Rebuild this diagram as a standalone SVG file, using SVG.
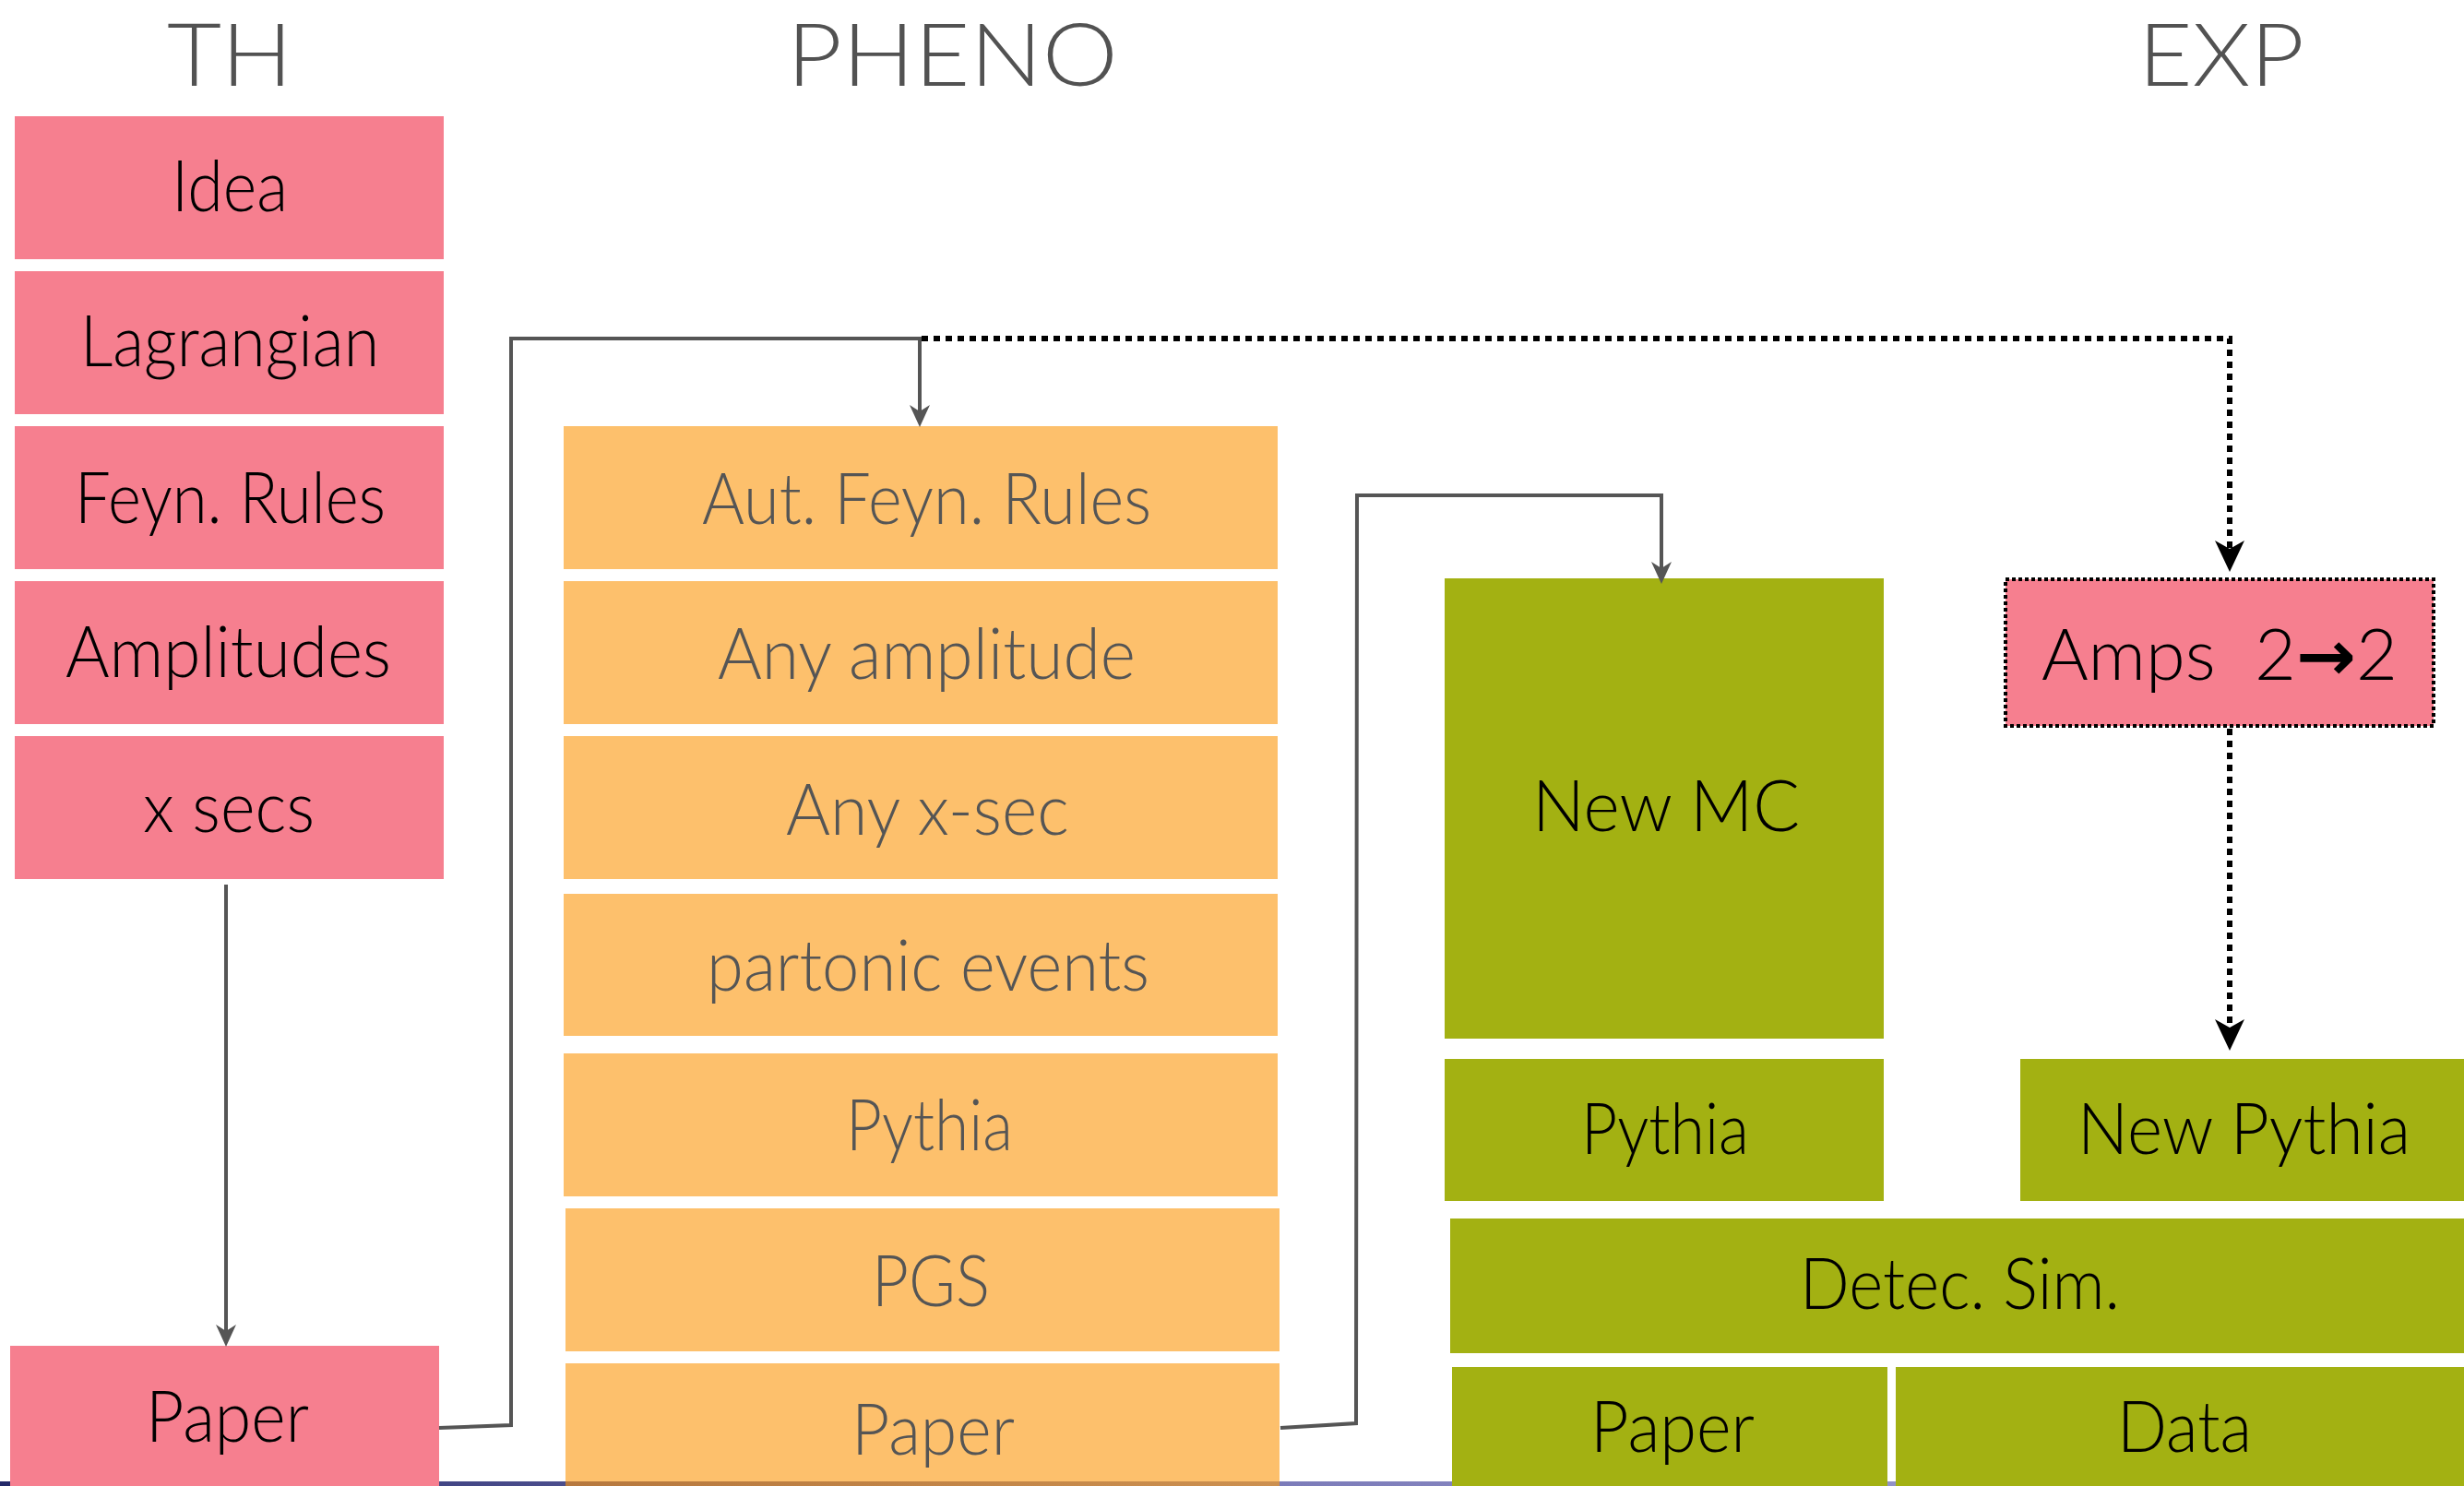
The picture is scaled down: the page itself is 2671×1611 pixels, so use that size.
<svg xmlns="http://www.w3.org/2000/svg" width="2671" height="1611" viewBox="0 0 2671 1611">
<defs>
<style>
.pink{fill:#F67F8F}
.orange{fill:#FDC06C}
.green{fill:#A3B112}
text{font-family:Lato,"Open Sans","Liberation Sans",sans-serif;font-weight:300;font-size:76px}
.hdr{font-size:94px;fill:#525252}
.dk{fill:#000}
.gy{fill:#555}
.conn{fill:none;stroke:#555;stroke-width:4}
.dot{fill:none;stroke:#000;stroke-width:6;stroke-dasharray:7 6}
</style>
<marker id="ag" markerUnits="userSpaceOnUse" markerWidth="24" markerHeight="22" viewBox="0 0 24 22" refX="14" refY="11" orient="auto">
<path d="M0,0 L24,11 L0,22 L7,11 Z" fill="#555"/>
</marker>
<marker id="ab" markerUnits="userSpaceOnUse" markerWidth="34" markerHeight="32" viewBox="0 0 34 32" refX="22" refY="16" orient="auto">
<path d="M0,0 L34,16 L0,32 L9,16 Z" fill="#000"/>
</marker>
<linearGradient id="bar" x1="0" y1="0" x2="2671" y2="0" gradientUnits="userSpaceOnUse">
<stop offset="0" stop-color="#232868"/>
<stop offset="0.5" stop-color="#7a7ab8"/>
<stop offset="1" stop-color="#a6a6d4"/>
</linearGradient>
<linearGradient id="brown" x1="613" y1="0" x2="1387" y2="0" gradientUnits="userSpaceOnUse">
<stop offset="0" stop-color="#b6783e"/>
<stop offset="1" stop-color="#cc9050"/>
</linearGradient>
</defs>
<rect x="0" y="0" width="2671" height="1611" fill="#fff"/>
<rect x="0" y="1606" width="2671" height="5" fill="url(#bar)"/>

<g id="headers">
<text class="hdr" x="181" y="93" textLength="136" lengthAdjust="spacingAndGlyphs">TH</text>
<text class="hdr" x="853" y="93" textLength="359" lengthAdjust="spacingAndGlyphs">PHENO</text>
<text class="hdr" x="2318" y="93" textLength="180" lengthAdjust="spacingAndGlyphs">EXP</text>
</g>

<g id="th-idea"><rect class="pink" x="16" y="126" width="465" height="155"/><text class="dk" x="186" y="229" textLength="126" lengthAdjust="spacingAndGlyphs">Idea</text></g>
<g id="th-lagrangian"><rect class="pink" x="16" y="294" width="465" height="155"/><text class="dk" x="87" y="397" textLength="324" lengthAdjust="spacingAndGlyphs">Lagrangian</text></g>
<g id="th-feyn"><rect class="pink" x="16" y="462" width="465" height="155"/><text class="dk" x="81" y="567" textLength="337" lengthAdjust="spacingAndGlyphs">Feyn. Rules</text></g>
<g id="th-amplitudes"><rect class="pink" x="16" y="630" width="465" height="155"/><text class="dk" x="71" y="734" textLength="353" lengthAdjust="spacingAndGlyphs">Amplitudes</text></g>
<g id="th-xsecs"><rect class="pink" x="16" y="798" width="465" height="155"/><text class="dk" x="155" y="902" textLength="186" lengthAdjust="spacingAndGlyphs">x secs</text></g>
<g id="th-paper"><rect class="pink" x="11" y="1459" width="465" height="152"/><text class="dk" x="158" y="1563" textLength="177" lengthAdjust="spacingAndGlyphs">Paper</text></g>

<g id="ph-autfeyn"><rect class="orange" x="611" y="462" width="774" height="155"/><text class="gy" x="761" y="568" textLength="487" lengthAdjust="spacingAndGlyphs">Aut. Feyn. Rules</text></g>
<g id="ph-anyamp"><rect class="orange" x="611" y="630" width="774" height="155"/><text class="gy" x="778" y="736" textLength="453" lengthAdjust="spacingAndGlyphs">Any amplitude</text></g>
<g id="ph-anyxsec"><rect class="orange" x="611" y="798" width="774" height="155"/><text class="gy" x="852" y="905" textLength="307" lengthAdjust="spacingAndGlyphs">Any x-sec</text></g>
<g id="ph-partonic"><rect class="orange" x="611" y="969" width="774" height="154"/><text class="gy" x="766" y="1074" textLength="480" lengthAdjust="spacingAndGlyphs">partonic events</text></g>
<g id="ph-pythia"><rect class="orange" x="611" y="1142" width="774" height="155"/><text class="gy" x="917" y="1247" textLength="181" lengthAdjust="spacingAndGlyphs">Pythia</text></g>
<g id="ph-pgs"><rect class="orange" x="613" y="1310" width="774" height="155"/><text class="gy" x="945" y="1416" textLength="128" lengthAdjust="spacingAndGlyphs">PGS</text></g>
<g id="ph-paper"><rect class="orange" x="613" y="1478" width="774" height="133"/><rect x="613" y="1606" width="774" height="5" fill="url(#brown)"/><text class="gy" x="923" y="1577" textLength="177" lengthAdjust="spacingAndGlyphs">Paper</text></g>

<g id="ex-newmc"><rect class="green" x="1566" y="627" width="476" height="499"/><text class="dk" x="1661" y="901" textLength="290" lengthAdjust="spacingAndGlyphs">New MC</text></g>
<g id="ex-amps"><rect class="pink" x="2174" y="628" width="464" height="159" stroke="#000" stroke-width="4" stroke-dasharray="4 3"/><text class="dk" x="2213" y="737" textLength="386" lengthAdjust="spacingAndGlyphs" xml:space="preserve">Amps  2<tspan font-family="DejaVu Sans" font-weight="700">→</tspan>2</text></g>
<g id="ex-pythia"><rect class="green" x="1566" y="1148" width="476" height="154"/><text class="dk" x="1714" y="1251" textLength="182" lengthAdjust="spacingAndGlyphs">Pythia</text></g>
<g id="ex-newpythia"><rect class="green" x="2190" y="1148" width="481" height="154"/><text class="dk" x="2252" y="1251" textLength="361" lengthAdjust="spacingAndGlyphs">New Pythia</text></g>
<g id="ex-detec"><rect class="green" x="1572" y="1321" width="1099" height="146"/><text class="dk" x="1951" y="1419" textLength="347" lengthAdjust="spacingAndGlyphs">Detec. Sim.</text></g>
<g id="ex-paper"><rect class="green" x="1574" y="1482" width="472" height="129"/><text class="dk" x="1724" y="1574" textLength="178" lengthAdjust="spacingAndGlyphs">Paper</text></g>
<g id="ex-data"><rect class="green" x="2055" y="1482" width="616" height="129"/><text class="dk" x="2295" y="1574" textLength="146" lengthAdjust="spacingAndGlyphs">Data</text></g>

<g id="connectors">
<path class="conn" d="M245,959 L245,1450" marker-end="url(#ag)"/>
<path class="conn" d="M476,1548 L554,1545 L554,367 L997,367 L997,453" marker-end="url(#ag)" stroke-linejoin="miter"/>
<path class="conn" d="M1388,1548 L1470,1543 L1471,537 L1801,537 L1801,623" marker-end="url(#ag)"/>
<path class="dot" d="M999,367 L2417,367 L2417,608" marker-end="url(#ab)"/>
<path class="dot" d="M2417,790 L2417,1127" marker-end="url(#ab)"/>
</g>
</svg>
